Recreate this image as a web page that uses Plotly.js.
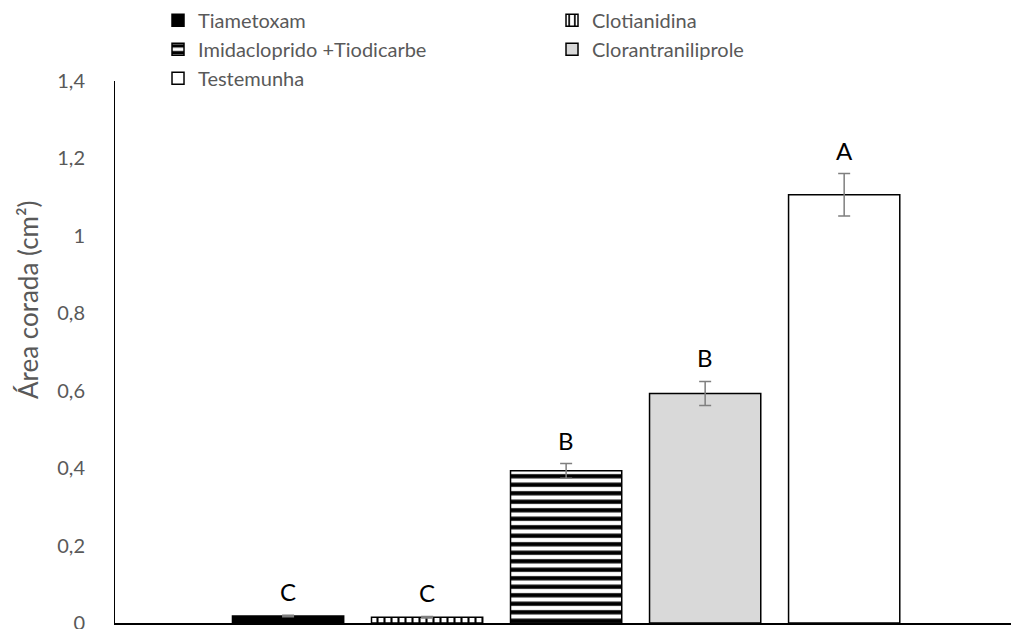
<!DOCTYPE html>
<html>
<head>
<meta charset="utf-8">
<script src="https://cdn.plot.ly/plotly-3.0.1.min.js"></script>
<style>html,body{margin:0;padding:0;background:#fff;}#chart{width:1011px;height:629px;}</style>
</head>
<body>
<div id="chart"></div>
<script>
// Data
const treatments = ["Tiametoxam", "Clotianidina", "Imidacloprido +Tiodicarbe", "Clorantraniliprole", "Testemunha"];
const values = [0.018, 0.015, 0.393, 0.593, 1.106];
const errors = [0.002, 0.002, 0.019, 0.031, 0.055];
const letters = ["C", "C", "B", "B", "A"];
const yTicks = [0, 0.2, 0.4, 0.6, 0.8, 1, 1.2, 1.4];
const yTitle = "Área corada (cm²)";

// Styles per trace
const styles = [
  {color: "#000000", pattern: {shape: ""}},
  {color: "#ffffff", pattern: {shape: "|", fgcolor: "#000000", bgcolor: "#ffffff", size: 7, solidity: 0.3}},
  {color: "#ffffff", pattern: {shape: "-", fgcolor: "#000000", bgcolor: "#ffffff", size: 8.5, solidity: 0.5}},
  {color: "#d9d9d9", pattern: {shape: ""}},
  {color: "#ffffff", pattern: {shape: ""}}
];

const traces = treatments.map((name, i) => ({
  type: "bar",
  name: name,
  x: [i],
  y: [values[i]],
  width: 0.8,
  marker: {color: styles[i].color, pattern: styles[i].pattern, line: {color: "#000000", width: 1.5}},
  error_y: {type: "data", array: [errors[i]], visible: true, color: "#7f7f7f", thickness: 1.5, width: 6},
  hoverinfo: "skip"
}));

const annotations = letters.map((t, i) => ({
  x: i, y: values[i] + errors[i], xref: "x", yref: "y",
  text: t, showarrow: false, yanchor: "bottom", yshift: 7,
  font: {family: "Lato, sans-serif", size: 24, color: "#000000"}
}));
annotations.push({
  xref: "paper", yref: "paper", x: -0.097, y: 0.596,
  xanchor: "center", yanchor: "middle", textangle: -90,
  text: yTitle, showarrow: false,
  font: {family: "Lato, sans-serif", size: 26, color: "#595959"}
});

const layout = {
  width: 1011, height: 629,
  margin: {l: 115, r: 0, t: 81, b: 6},
  paper_bgcolor: "#ffffff", plot_bgcolor: "#ffffff",
  separators: ",.",
  barmode: "overlay",
  showlegend: true,
  legend: {
    orientation: "h", x: 0.048, xanchor: "left", y: 1.148, yanchor: "top",
    entrywidth: 349, entrywidthmode: "pixels",
    font: {family: "Lato, sans-serif", size: 20, color: "#595959"},
    itemwidth: 30, tracegroupgap: 0, traceorder: "normal"
  },
  xaxis: {
    range: [-1.245, 5.2], showgrid: false, zeroline: false,
    showline: true, linecolor: "#000000", linewidth: 1.5,
    showticklabels: false, ticks: ""
  },
  yaxis: {
    range: [0, 1.4], tickvals: yTicks, showgrid: false, zeroline: false,
    showline: true, linecolor: "#000000", linewidth: 1,
    ticks: "outside", ticklen: 25, tickcolor: "rgba(0,0,0,0)",
    ticklabeloverflow: "allow",
    tickfont: {family: "Lato, sans-serif", size: 20, color: "#595959"}
  },
  annotations: annotations,
  font: {family: "Lato, sans-serif"}
};

Plotly.newPlot("chart", traces, layout, {displayModeBar: false, staticPlot: true});
</script>
</body>
</html>
